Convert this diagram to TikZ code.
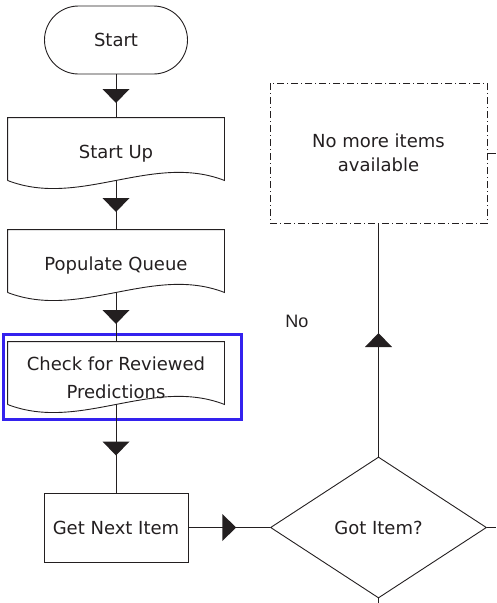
\documentclass[tikz,border=0pt]{standalone}
\usepackage{fontspec}
\setmainfont{DejaVu Sans}
\newfontfamily\labelfont{Liberation Sans}
\usetikzlibrary{shapes.geometric, decorations.markings}
\definecolor{edge}{RGB}{35,31,32}
\definecolor{focusblue}{RGB}{52,34,238}

\begin{document}
\begin{tikzpicture}[x=1pt, y=-1pt, line width=0.9pt, draw=edge,
  every node/.style={font=\fontsize{18}{28}\selectfont, align=center, text=edge},
  term/.style={draw, rectangle, rounded corners=34pt, minimum width=143pt, minimum height=68pt},
  docbox/.style={rectangle, inner sep=0pt, minimum width=216pt, minimum height=62pt, text height=19pt, text depth=0pt},
  procbox/.style={draw, rectangle, minimum width=144pt, minimum height=69pt},
  decision/.style={draw, diamond, inner sep=0pt, minimum width=216pt, minimum height=141pt},
  notebox/.style={draw, rectangle, minimum width=217pt, minimum height=140pt, font=\fontsize{18}{24}\selectfont, dash pattern=on 7pt off 3pt on 1pt off 3pt},
  flow/.style={decoration={markings, mark=at position 0.5 with {\fill[edge] (-7pt,13.5pt) -- (7pt,0pt) -- (-7pt,-13.5pt) -- cycle;}}, postaction={decorate}}]
\useasboundingbox (0,0) rectangle (496,603);
\node[term] (start) at (116,40) {Start};
\node[docbox] (startup) at (116,149) {Start Up};
\node[docbox] (populate) at (116,261) {Populate Queue};
\node[docbox, text height=50pt] (check) at (116,373) {Check for Reviewed\\Predictions};
\node[procbox] (getnext) at (116,527.5) {Get Next Item};
\node[decision] (gotitem) at (378.5,527.5) {Got Item?};
\node[notebox] (nomore) at (378.5,153) {No more items\\available};
\node[font=\labelfont\fontsize{18}{20}\selectfont] (no) at (297,321) {No};
\foreach \n in {startup, populate, check}
  \draw (\n.south west) -- (\n.north west) -- (\n.north east) -- (\n.south east)
    .. controls +(-72,-28) and +(72,28) .. (\n.south west);
\draw[focusblue, line width=2.6pt] ([shift={(-4,-7)}]check.north west) rectangle ([shift={(17,15)}]check.south east);
\coordinate (outnote) at (496,153);
\coordinate (outright) at (496,527.5);
\coordinate (outdown) at (378.5,603);
\draw[flow] (start) -- (startup);
\draw[flow] (startup) -- (populate);
\draw[flow] (populate) -- (check);
\draw[flow] (check) -- (getnext);
\draw[flow] (getnext.east) -- (gotitem.west);
\draw[flow] (gotitem.north) -- (nomore.south);
\draw (nomore.east) -- (outnote);
\draw (gotitem.east) -- (outright);
\draw (gotitem.south) -- (outdown);
\end{tikzpicture}
\end{document}
